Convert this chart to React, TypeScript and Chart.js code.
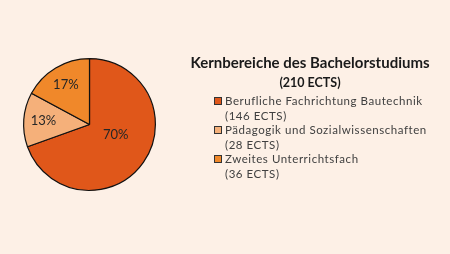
import React, { useEffect, useRef } from "react";
import { Chart, registerables } from "chart.js";

Chart.register(...registerables);

const categories = [
  "Berufliche Fachrichtung Bautechnik",
  "Pädagogik und Sozialwissenschaften",
  "Zweites Unterrichtsfach",
];
const ects = [146, 28, 36];
const percentLabels = ["70%", "13%", "17%"];
const colors = ["#E0571A", "#F5B07A", "#F0882A"];
const titleText = "Kernbereiche des Bachelorstudiums";
const subtitleText = "(210 ECTS)";

const BG = "#FDF0E6";

const labelPlugin = {
  id: "sliceLabels",
  afterDatasetsDraw(chart: any) {
    const meta = chart.getDatasetMeta(0);
    const ctx = chart.ctx;
    ctx.save();
    ctx.font = "13px Lato, 'Liberation Sans', sans-serif";
    ctx.fillStyle = "#262626";
    ctx.textAlign = "center";
    ctx.textBaseline = "middle";
    meta.data.forEach((arc: any, i: number) => {
      const p = arc.getProps(["x", "y", "startAngle", "endAngle", "outerRadius"], true);
      const span = p.endAngle - p.startAngle;
      const big = span > Math.PI;
      const mid = (p.startAngle + p.endAngle) / 2 - (big ? 0.23 : 0);
      const f = big ? 0.43 : 0.7;
      const x = p.x + Math.cos(mid) * p.outerRadius * f;
      const y = p.y + Math.sin(mid) * p.outerRadius * f;
      ctx.fillText(percentLabels[i], x, y);
    });
    ctx.restore();
  },
};

export default function App() {
  const ref = useRef<HTMLCanvasElement>(null);
  useEffect(() => {
    document.body.style.margin = "0";
    const chart = new Chart(ref.current!, {
      type: "pie",
      data: {
        labels: categories,
        datasets: [
          {
            data: ects,
            backgroundColor: colors,
            borderColor: "#111111",
            borderWidth: 1.2,
          },
        ],
      },
      options: {
        responsive: false,
        animation: false,
        layout: { padding: { left: 23, top: 58, right: 294, bottom: 63 } },
        plugins: {
          legend: { display: false },
          tooltip: { enabled: false },
          title: { display: false },
        },
      },
      plugins: [labelPlugin],
    });
    return () => chart.destroy();
  }, []);

  return (
    <div
      style={{
        position: "fixed",
        left: 0,
        top: 0,
        width: 450,
        height: 254,
        background: BG,
        overflow: "hidden",
      }}
    >
      <canvas ref={ref} width={450} height={254} style={{ position: "absolute", left: 0, top: 0 }} />
      <div
        style={{
          position: "absolute",
          left: 180,
          width: 260,
          top: 52,
          textAlign: "center",
          fontFamily: "Lato, 'Liberation Sans', sans-serif",
          fontWeight: 700,
          color: "#1a1a1a",
        }}
      >
        <div style={{ fontSize: 15, lineHeight: "20px", whiteSpace: "nowrap" }}>{titleText}</div>
        <div style={{ fontSize: 12.5, lineHeight: "21px" }}>{subtitleText}</div>
      </div>
      <div
        style={{
          position: "absolute",
          left: 214,
          top: 94,
          fontFamily: "Lato, 'Liberation Sans', sans-serif",
          fontSize: 11.5,
          letterSpacing: 0.55,
          color: "#404040",
          lineHeight: "14.5px",
        }}
      >
        {categories.map((c, i) => (
          <div key={c}>
            <div style={{ display: "flex", alignItems: "center", whiteSpace: "nowrap" }}>
              <span
                style={{
                  display: "inline-block",
                  width: 6,
                  height: 6,
                  background: colors[i],
                  border: "1px solid #333",
                  marginRight: 3,
                }}
              />
              {c}
            </div>
            <div style={{ paddingLeft: 11 }}>({ects[i]} ECTS)</div>
          </div>
        ))}
      </div>
    </div>
  );
}
